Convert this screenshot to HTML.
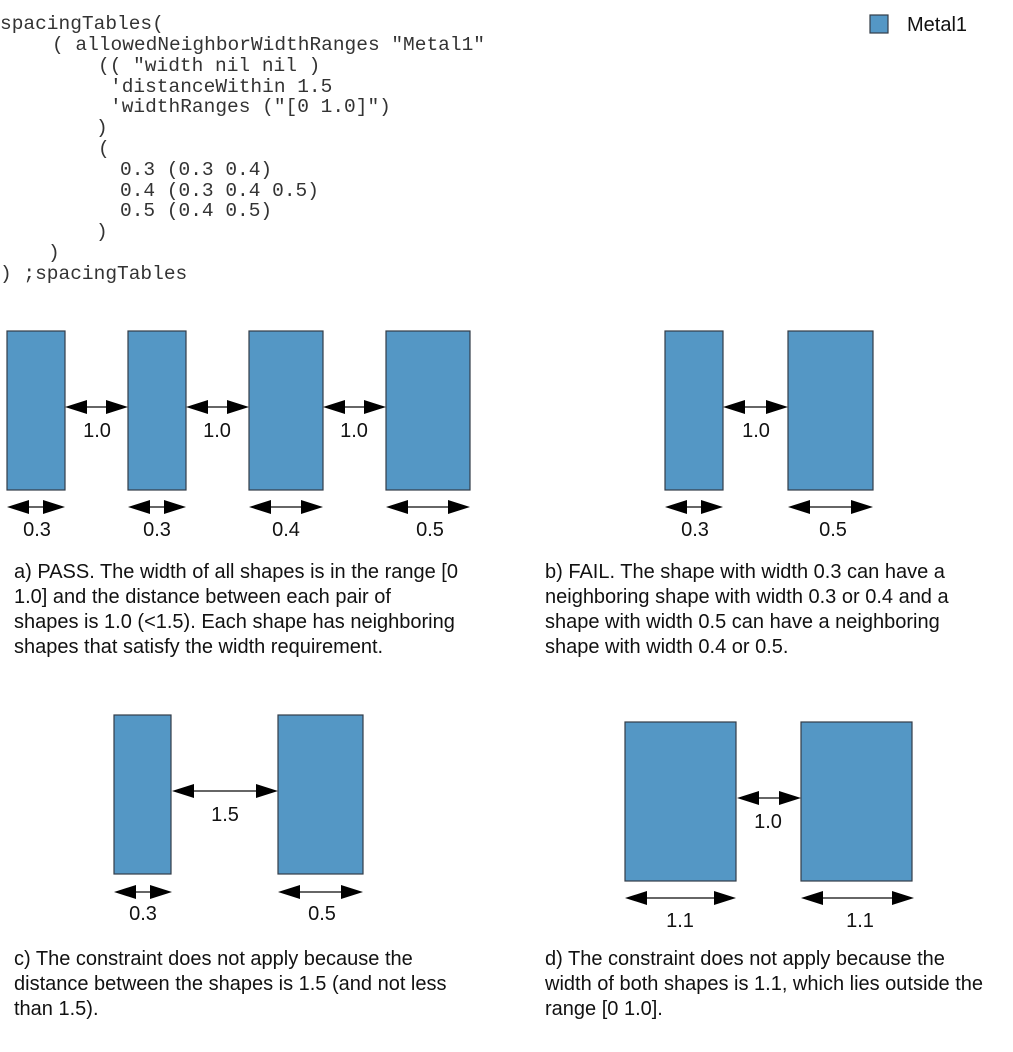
<!DOCTYPE html>
<html><head><meta charset="utf-8"><style>
html,body{margin:0;padding:0;background:#fff;}
svg{display:block;}
.code{font-family:"Liberation Mono",monospace;font-size:19.5px;fill:#333;}
.t{font-family:"Liberation Sans",sans-serif;font-size:20px;fill:#111;}
.lbl{font-family:"Liberation Sans",sans-serif;font-size:20px;fill:#111;text-anchor:middle;}
.r{fill:#5497c5;stroke:#333c48;stroke-width:1.2;}
.ln{stroke:#333;stroke-width:1.5;}
</style></head><body>
<svg width="1013" height="1052" viewBox="0 0 1013 1052" xmlns="http://www.w3.org/2000/svg">
<g class="code" xml:space="preserve">
<text x="0" y="29">spacingTables(</text>
<text x="52" y="50">( allowedNeighborWidthRanges "Metal1"</text>
<text x="98" y="71">(( "width nil nil )</text>
<text x="110" y="92">'distanceWithin 1.5</text>
<text x="110" y="112">'widthRanges ("[0 1.0]")</text>
<text x="96" y="133">)</text>
<text x="98" y="154">(</text>
<text x="120" y="175">0.3 (0.3 0.4)</text>
<text x="120" y="196">0.4 (0.3 0.4 0.5)</text>
<text x="120" y="216">0.5 (0.4 0.5)</text>
<text x="96" y="237">)</text>
<text x="48" y="258">)</text>
<text x="0" y="279">) ;spacingTables</text>
</g>
<rect class="r" x="870" y="15" width="18" height="18"/>
<text class="t" x="907" y="31">Metal1</text>

<rect class="r" x="7" y="331" width="58" height="159"/>
<rect class="r" x="128" y="331" width="58" height="159"/>
<rect class="r" x="249" y="331" width="74" height="159"/>
<rect class="r" x="386" y="331" width="84" height="159"/>
<rect class="r" x="665" y="331" width="58" height="159"/>
<rect class="r" x="788" y="331" width="85" height="159"/>
<rect class="r" x="114" y="715" width="57" height="159"/>
<rect class="r" x="278" y="715" width="85" height="159"/>
<rect class="r" x="625" y="722" width="111" height="159"/>
<rect class="r" x="801" y="722" width="111" height="159"/>

<g fill="#000">
<line class="ln" x1="85" y1="407" x2="108" y2="407"/><polygon points="65,407 87,400 87,414"/><polygon points="128,407 106,400 106,414"/>
<line class="ln" x1="206" y1="407" x2="229" y2="407"/><polygon points="186,407 208,400 208,414"/><polygon points="249,407 227,400 227,414"/>
<line class="ln" x1="343" y1="407" x2="366" y2="407"/><polygon points="323,407 345,400 345,414"/><polygon points="386,407 364,400 364,414"/>
<line class="ln" x1="27" y1="507" x2="45" y2="507"/><polygon points="7,507 29,500 29,514"/><polygon points="65,507 43,500 43,514"/>
<line class="ln" x1="148" y1="507" x2="166" y2="507"/><polygon points="128,507 150,500 150,514"/><polygon points="186,507 164,500 164,514"/>
<line class="ln" x1="269" y1="507" x2="303" y2="507"/><polygon points="249,507 271,500 271,514"/><polygon points="323,507 301,500 301,514"/>
<line class="ln" x1="406" y1="507" x2="450" y2="507"/><polygon points="386,507 408,500 408,514"/><polygon points="470,507 448,500 448,514"/>
<line class="ln" x1="743" y1="407" x2="768" y2="407"/><polygon points="723,407 745,400 745,414"/><polygon points="788,407 766,400 766,414"/>
<line class="ln" x1="685" y1="507" x2="703" y2="507"/><polygon points="665,507 687,500 687,514"/><polygon points="723,507 701,500 701,514"/>
<line class="ln" x1="808" y1="507" x2="853" y2="507"/><polygon points="788,507 810,500 810,514"/><polygon points="873,507 851,500 851,514"/>
<line class="ln" x1="192" y1="791" x2="258" y2="791"/><polygon points="172,791 194,784 194,798"/><polygon points="278,791 256,784 256,798"/>
<line class="ln" x1="134" y1="892" x2="152" y2="892"/><polygon points="114,892 136,885 136,899"/><polygon points="172,892 150,885 150,899"/>
<line class="ln" x1="298" y1="892" x2="343" y2="892"/><polygon points="278,892 300,885 300,899"/><polygon points="363,892 341,885 341,899"/>
<line class="ln" x1="756" y1="798" x2="781" y2="798"/><polygon points="737,798 759,791 759,805"/><polygon points="801,798 779,791 779,805"/>
<line class="ln" x1="645" y1="898" x2="716" y2="898"/><polygon points="625,898 647,891 647,905"/><polygon points="736,898 714,891 714,905"/>
<line class="ln" x1="821" y1="898" x2="892" y2="898"/><polygon points="801,898 823,891 823,905"/><polygon points="914,898 892,891 892,905"/>
</g>

<g class="lbl">
<text x="97" y="437">1.0</text><text x="217" y="437">1.0</text><text x="354" y="437">1.0</text>
<text x="37" y="536">0.3</text><text x="157" y="536">0.3</text><text x="286" y="536">0.4</text><text x="430" y="536">0.5</text>
<text x="756" y="437">1.0</text>
<text x="695" y="536">0.3</text><text x="833" y="536">0.5</text>
<text x="225" y="821">1.5</text>
<text x="143" y="920">0.3</text><text x="322" y="920">0.5</text>
<text x="768" y="828">1.0</text>
<text x="680" y="927">1.1</text><text x="860" y="927">1.1</text>
</g>

<g class="t">
<text x="14" y="578">a) PASS. The width of all shapes is in the range [0</text>
<text x="14" y="603">1.0] and the distance between each pair of</text>
<text x="14" y="628">shapes is 1.0 (&lt;1.5). Each shape has neighboring</text>
<text x="14" y="653">shapes that satisfy the width requirement.</text>
<text x="545" y="578">b) FAIL. The shape with width 0.3 can have a</text>
<text x="545" y="603">neighboring shape with width 0.3 or 0.4 and a</text>
<text x="545" y="628">shape with width 0.5 can have a neighboring</text>
<text x="545" y="653">shape with width 0.4 or 0.5.</text>
<text x="14" y="965">c) The constraint does not apply because the</text>
<text x="14" y="990">distance between the shapes is 1.5 (and not less</text>
<text x="14" y="1015">than 1.5).</text>
<text x="545" y="965">d) The constraint does not apply because the</text>
<text x="545" y="990">width of both shapes is 1.1, which lies outside the</text>
<text x="545" y="1015">range [0 1.0].</text>
</g>
</svg>
</body></html>
